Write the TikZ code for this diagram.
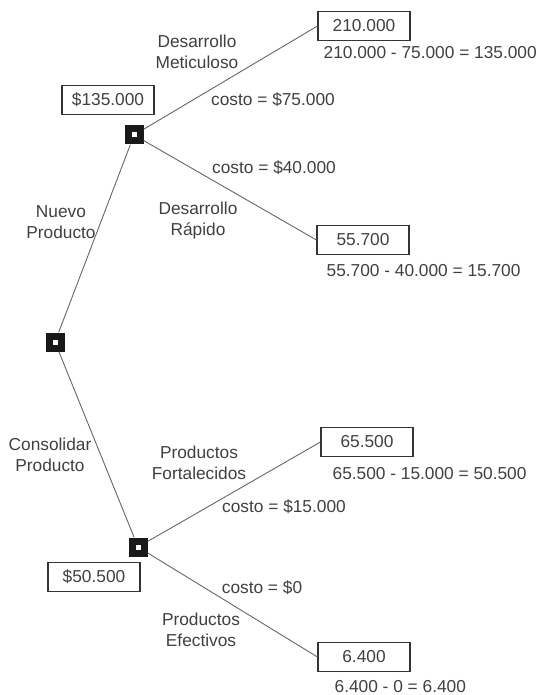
\documentclass[tikz,border=0pt]{standalone}
\usepackage{fontspec}
\setmainfont{Liberation Sans}
\usepackage{tikz}
\usetikzlibrary{positioning}

\begin{document}
\begin{tikzpicture}[x=1pt,y=-1pt,on grid,
                    every node/.style={font=\fontsize{17.3}{21}\selectfont,text=black!75},
                    decision/.style={rectangle,fill=black!90,minimum size=19pt,inner sep=0pt,
                      path picture={\fill[white] ([shift={(-2.5pt,-2.5pt)}]path picture bounding box.center) rectangle ++(5pt,5pt);}},
                    valbox/.style={rectangle,draw=black!80,line width=1.1pt,minimum width=92pt,minimum height=29pt,inner sep=1pt},
                    branch/.style={draw=black!60,line width=0.9pt},
                    lbl/.style={align=center,inner sep=0pt}]
  \useasboundingbox (0,0) rectangle (539,695);

	\node[decision] (root) at (55,342) {};
	\node[decision] (top) [above right=207pt and 79pt of root] {};
	\node[decision] (bot) [below right=205pt and 83pt of root] {};

	\node[valbox] (v135) [above left=35pt and 26pt of top] {\$135.000};
	\node[valbox] (v505) [below left=30pt and 44pt of bot] {\$50.500};
	\node[valbox] (v210) [above right=109pt and 230pt of top] {210.000};
	\node[valbox] (v557) [below right=105pt and 229pt of top] {55.700};
	\node[valbox] (v655) [above right=105pt and 229pt of bot] {65.500};
	\node[valbox] (v64)  [below right=110pt and 226pt of bot] {6.400};

	% resultados netos
	\node[anchor=west,inner sep=0pt] (r210) at ([xshift=6pt,yshift=-11pt]v210.south west) {210.000 - 75.000 = 135.000};
	\node[anchor=west,inner sep=0pt] (r557) at ([xshift=10pt,yshift=-15pt]v557.south west) {55.700 - 40.000 = 15.700};
	\node[anchor=west,inner sep=0pt] (r655) at ([xshift=12pt,yshift=-16pt]v655.south west) {65.500 - 15.000 = 50.500};
	\node[anchor=west,inner sep=0pt] (r64)  at ([xshift=17pt,yshift=-14pt]v64.south west) {6.400 - 0 = 6.400};

	% etiquetas de ramas
	\node[lbl] (lmet) at (197,52) {Desarrollo\\Meticuloso};
	\node[lbl] (c75) at (273,100) {costo = \$75.000};
	\node[lbl] (c40) at (274,168) {costo = \$40.000};
	\node[lbl] (lrap) at (198,221) {Desarrollo\\R\'apido};
	\node[lbl] (lnue) at (61,222) {Nuevo\\Producto};
	\node[lbl] (lcon) at (50,455) {Consolidar\\Producto};
	\node[lbl] (lfor) at (199,463) {Productos\\Fortalecidos};
	\node[lbl] (c15) at (284,507) {costo = \$15.000};
	\node[lbl] (c0) at (262,588) {costo = \$0};
	\node[lbl] (lefe) at (201,630) {Productos\\Efectivos};

	\path[branch]
	(root) edge (top)
	       edge (bot)
	(top)  edge (v210.west)
	       edge (v557.west)
	(bot)  edge (v655.west)
	       edge (v64.west);

\end{tikzpicture}
\end{document}
